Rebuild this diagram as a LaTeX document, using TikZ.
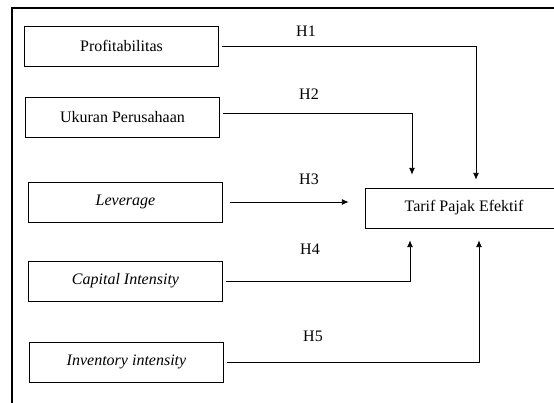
\documentclass[tikz,border=0pt]{standalone}
\usepackage{fontspec}
\setmainfont{Liberation Serif}
\usetikzlibrary{arrows.meta}
\begin{document}
\begin{tikzpicture}[x=0.75pt,y=-0.75pt,>={Latex[length=5pt,width=4.5pt]},font=\fontsize{12}{14}\selectfont,
  var/.style={draw,line width=0.6pt,minimum width=146pt,minimum height=30pt,inner sep=0pt},
  link/.style={->,line width=0.6pt,shorten <=2pt}]
  \clip (0,0) rectangle (554,403);
  % Frame
  \draw[line width=1.5pt] (12,420) -- (12,8) -- (570,8);

  % Variables
  \node[var] (profit)    at (121.5,46)  {Profitabilitas};
  \node[var] (ukuran)    at (122.5,117) {Ukuran Perusahaan};
  \node[var] (leverage)  at (125.5,202) {\itshape Leverage};
  \node[var] (capital)   at (125.5,281) {\itshape Capital Intensity};
  \node[var] (inventory) at (126.5,362) {\itshape Inventory intensity};
  \node[var,minimum width=148.5pt] (tarif) at (464,208) {Tarif Pajak Efektif};

  % Hypotheses
  \draw[link] (profit.east) -| ([xshift=9pt,yshift=6pt]tarif.north);
  \draw[link] ([yshift=3pt]ukuran.east) -| ([xshift=-39pt,yshift=9.75pt]tarif.north);
  \draw[link,shorten <=5pt,shorten >=12pt] (leverage.east) -- (leverage.east -| tarif.west);
  \draw[link] (capital.east) -| ([xshift=-40.5pt,yshift=-9pt]tarif.south);
  \draw[link] (inventory.east) -| ([xshift=11.25pt,yshift=-9pt]tarif.south);

  % Labels
  \node at (306,31)  {H1};
  \node at (309,94)  {H2};
  \node at (309,179) {H3};
  \node at (310,249) {H4};
  \node at (313,336) {H5};
\end{tikzpicture}
\end{document}
